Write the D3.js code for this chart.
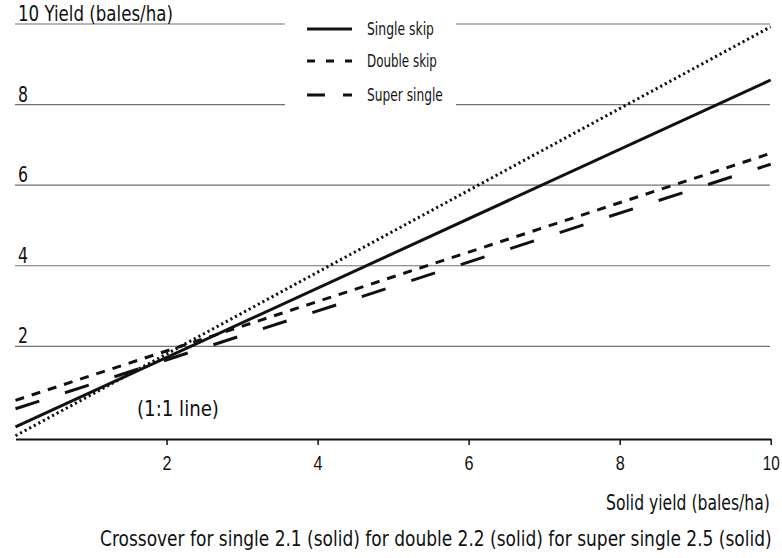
<!DOCTYPE html>
<meta charset="utf-8">
<style>
body{
	margin:0;
	background:#fff;
	font-family:"Liberation Sans Narrow","DejaVu Sans Condensed",sans-serif;
}
text{fill:#111;}
</style>
<script src="https://cdn.jsdelivr.net/npm/d3@7"></script>
<div id="chart"></div>

<script>

// values (x = solid yield, y = yield)
var xEnds = [0, 10]
var oneToOne = [-0.22, 9.93]
var singleSkip = [0, 8.61]
var doubleSkip = [0.66, 6.79]
var superSingle = [0.45, 6.52]

var xTicks = [2, 4, 6, 8, 10]
var yTicks = [2, 4, 6, 8, 10]

var seriesNames = ["Single skip", "Double skip", "Super single"]

var W = 782, H = 558
var svg = d3.select("#chart").append("svg").attr("width", W).attr("height", H)

var x = d3.scaleLinear().domain([0, 10]).range([15.5, 770.7])
var y = d3.scaleLinear().domain([-0.3, 10]).range([439, 24])

// squeeze a label sideways to the width it has in the picture
function fit(sel, w){
	var node = sel.node()
	var nat = node.getComputedTextLength()
	var px = +sel.attr("x") || 0, py = +sel.attr("y") || 0
	sel.attr("x", 0).attr("y", 0)
		.attr("transform", "translate(" + px + "," + py + ") scale(" + (w / nat) + ",1)")
	return sel
}

// gridlines
svg.append("g").selectAll("line").data(yTicks).enter().append("line")
	.attr("x1", 15).attr("x2", 770)
	.attr("y1", function(d){ return y(d) }).attr("y2", function(d){ return y(d) })
	.attr("stroke", "#707070").attr("stroke-width", 1.2)

// y labels sit on top of the gridlines
svg.append("g").selectAll("text").data(yTicks).enter().append("text")
	.attr("x", 18).attr("y", function(d){ return y(d) - 3 })
	.attr("font-size", 22)
	.text(function(d){ return d == 10 ? "10 Yield (bales/ha)" : d })
	.each(function(d){ fit(d3.select(this), d == 10 ? 155 : 10) })

// x axis
var xAxis = d3.axisBottom(x).tickValues(xTicks).tickSize(6).tickSizeOuter(0).tickPadding(9)
var ax = svg.append("g").attr("transform", "translate(0," + y(-0.3) + ")").call(xAxis)
ax.select(".domain").attr("stroke", "#111").attr("stroke-width", 2.2)
ax.selectAll(".tick line").attr("stroke", "#111").attr("stroke-width", 1.5)
ax.selectAll(".tick text").attr("font-size", 20).attr("font-family", "inherit").attr("fill", "#111")
	.attr("dy", null).attr("y", 31)
	.each(function(d){ fit(d3.select(this), d == 10 ? 17 : 9) })

function lineOf(vals){
	return d3.line()
		.x(function(d, i){ return x(xEnds[i]) })
		.y(function(d){ return y(d) })(vals)
}

var styles = [
	{vals: singleSkip, dash: null},
	{vals: doubleSkip, dash: "9,8"},
	{vals: superSingle, dash: "25,27"}
]

svg.append("path").attr("d", lineOf(oneToOne))
	.attr("fill", "none").attr("stroke", "#111").attr("stroke-width", 3)
	.attr("stroke-dasharray", "2.2,3")

styles.forEach(function(s){
	svg.append("path").attr("d", lineOf(s.vals))
		.attr("fill", "none").attr("stroke", "#111").attr("stroke-width", 3)
		.attr("stroke-dasharray", s.dash)
})

fit(svg.append("text").attr("x", 137).attr("y", 416).attr("font-size", 21).text("(1:1 line)"), 82)

// legend (white box hides the gridlines behind it)
var lg = svg.append("g")
lg.append("rect").attr("x", 285).attr("y", 8).attr("width", 171).attr("height", 104).attr("fill", "#fff")
var legDash = [null, "8,11", "18,18"]
var legY = [29, 61, 95]
var legW = [67, 70, 76]
seriesNames.forEach(function(n, i){
	lg.append("line").attr("x1", 307).attr("x2", 352).attr("y1", legY[i]).attr("y2", legY[i])
		.attr("stroke", "#111").attr("stroke-width", 3).attr("stroke-dasharray", legDash[i])
	fit(lg.append("text").attr("x", 367).attr("y", legY[i] + 5.5).attr("font-size", 17).text(n), legW[i])
})

fit(svg.append("text").attr("x", 606).attr("y", 510).attr("font-size", 21)
	.text("Solid yield (bales/ha)"), 164)
fit(svg.append("text").attr("x", 100).attr("y", 546).attr("font-size", 21)
	.text("Crossover for single 2.1 (solid) for double 2.2 (solid) for super single 2.5 (solid)"), 672)

</script>
